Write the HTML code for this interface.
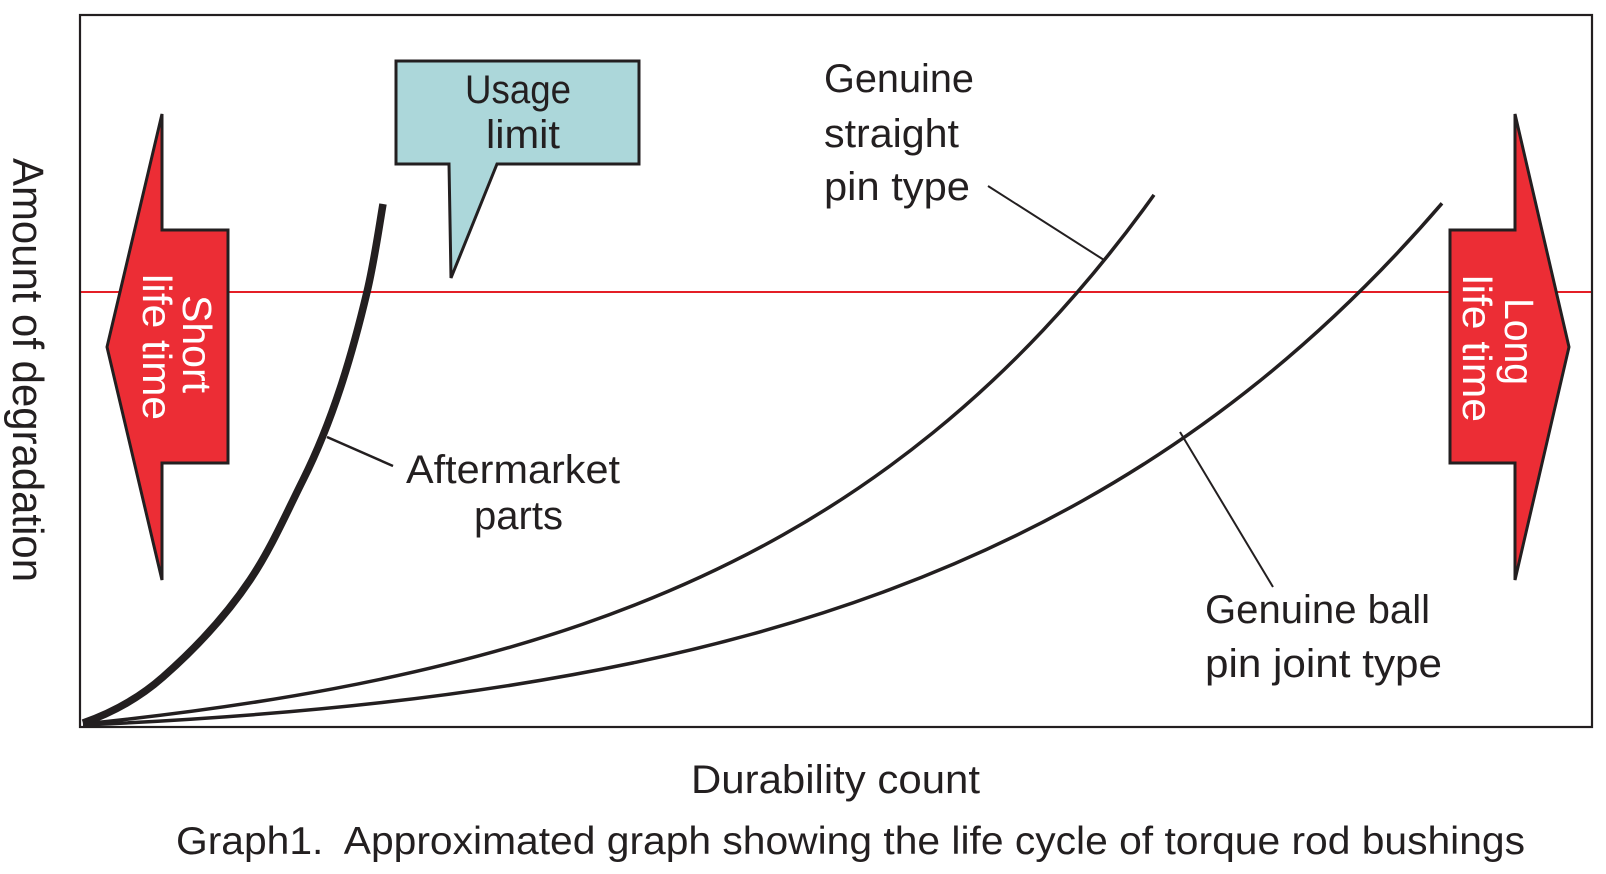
<!DOCTYPE html>
<html>
<head>
<meta charset="utf-8">
<style>
  html, body { margin: 0; padding: 0; background: #ffffff; }
  svg { display: block; }
  text { font-family: "Liberation Sans", "DejaVu Sans", sans-serif; fill: #231f20; }
  .w { fill: #ffffff; }
</style>
</head>
<body>
<svg width="1606" height="874" viewBox="0 0 1606 874" xmlns="http://www.w3.org/2000/svg">
  <rect x="0" y="0" width="1606" height="874" fill="#ffffff"/>

  <!-- red usage limit line -->
  <line x1="80" y1="292" x2="1592" y2="292" stroke="#e41f26" stroke-width="2"/>

  <!-- left arrow: Short life time -->
  <polygon points="162,114 162,230 228,230 228,463 162,463 162,580 107,347"
           fill="#ec2d35" stroke="#231f20" stroke-width="3" stroke-linejoin="miter"/>
  <!-- right arrow: Long life time -->
  <polygon points="1515,114 1515,230 1450,230 1450,463 1515,463 1515,580 1569,347"
           fill="#ec2d35" stroke="#231f20" stroke-width="3" stroke-linejoin="miter"/>

  <!-- frame -->
  <rect x="80" y="15" width="1512" height="712" fill="none" stroke="#231f20" stroke-width="2.2"/>

  <!-- Usage limit callout -->
  <path d="M396,61 L639,61 L639,164 L497,164 L451,278 L449,164 L396,164 Z"
        fill="#acd7da" stroke="#231f20" stroke-width="3" stroke-linejoin="miter"/>
  <text x="465" y="103" font-size="40" textLength="106" lengthAdjust="spacingAndGlyphs">Usage</text>
  <text x="486" y="148" font-size="40" textLength="74" lengthAdjust="spacingAndGlyphs">limit</text>

  <!-- curves -->
  <!-- Aftermarket (thick) -->
  <path d="M83,723 C112.1,712.8 139.9,697.4 163,677 C195.6,648.3 225.8,616 250,580 C271,548.7 286.1,513.7 303,480 C332.6,420.8 351.7,356.4 367,292 C373.9,263 378.1,233.4 383,204"
        fill="none" stroke="#231f20" stroke-width="7.5" stroke-linecap="butt"/>
  <!-- Genuine straight pin type -->
  <path d="M83,724 C166.3,715.5 249.7,704.5 333,688.8 C416.3,673.1 499.7,652.9 583,624.1 C649.7,601 716.3,572.5 783,534.9 C833,506.7 883,473.3 933,432.7 C969.7,402.9 1006.3,369.3 1043,330.3 C1080,291 1117,246.4 1154,194.9"
        fill="none" stroke="#231f20" stroke-width="3.5"/>
  <!-- Genuine ball pin joint type -->
  <path d="M83,725 C183,720.6 283,713.7 383,702.4 C466.3,693 549.7,680.4 633,662.9 C716.3,645.4 799.7,622.8 883,592.1 C949.7,567.6 1016.3,537.9 1083,500.5 C1143,466.8 1203,427 1263,378.3 C1322.7,329.9 1382.3,272.7 1442,203.3"
        fill="none" stroke="#231f20" stroke-width="3.5"/>

  <!-- leader lines -->
  <line x1="327" y1="437" x2="393" y2="466" stroke="#231f20" stroke-width="2.5"/>
  <line x1="988" y1="186" x2="1104" y2="260" stroke="#231f20" stroke-width="2"/>
  <line x1="1180" y1="432" x2="1273" y2="587" stroke="#231f20" stroke-width="2"/>

  <!-- labels -->
  <text x="824" y="92" font-size="40" textLength="150" lengthAdjust="spacingAndGlyphs">Genuine</text>
  <text x="824" y="147" font-size="40" textLength="135" lengthAdjust="spacingAndGlyphs">straight</text>
  <text x="824" y="200" font-size="40" textLength="146" lengthAdjust="spacingAndGlyphs">pin type</text>

  <text x="406" y="483" font-size="40" textLength="214" lengthAdjust="spacingAndGlyphs">Aftermarket</text>
  <text x="474" y="529" font-size="40" textLength="89" lengthAdjust="spacingAndGlyphs">parts</text>

  <text x="1205" y="623" font-size="40" textLength="225" lengthAdjust="spacingAndGlyphs">Genuine ball</text>
  <text x="1205" y="677" font-size="40" textLength="237" lengthAdjust="spacingAndGlyphs">pin joint type</text>

  <text x="691" y="793" font-size="40" textLength="289" lengthAdjust="spacingAndGlyphs">Durability count</text>
  <text x="176" y="854" font-size="39" textLength="1349" lengthAdjust="spacingAndGlyphs" xml:space="preserve">Graph1.  Approximated graph showing the life cycle of torque rod bushings</text>

  <!-- rotated labels -->
  <text transform="translate(13,158) rotate(90)" font-size="44" textLength="424" lengthAdjust="spacingAndGlyphs">Amount of degradation</text>

  <text class="w" transform="translate(183,295) rotate(90)" font-size="41" textLength="98" lengthAdjust="spacingAndGlyphs">Short</text>
  <text class="w" transform="translate(143,274) rotate(90)" font-size="41" textLength="146" lengthAdjust="spacingAndGlyphs">life time</text>

  <text class="w" transform="translate(1505,298) rotate(90)" font-size="41" textLength="87" lengthAdjust="spacingAndGlyphs">Long</text>
  <text class="w" transform="translate(1463,275) rotate(90)" font-size="41" textLength="147" lengthAdjust="spacingAndGlyphs">life time</text>
</svg>
</body>
</html>
